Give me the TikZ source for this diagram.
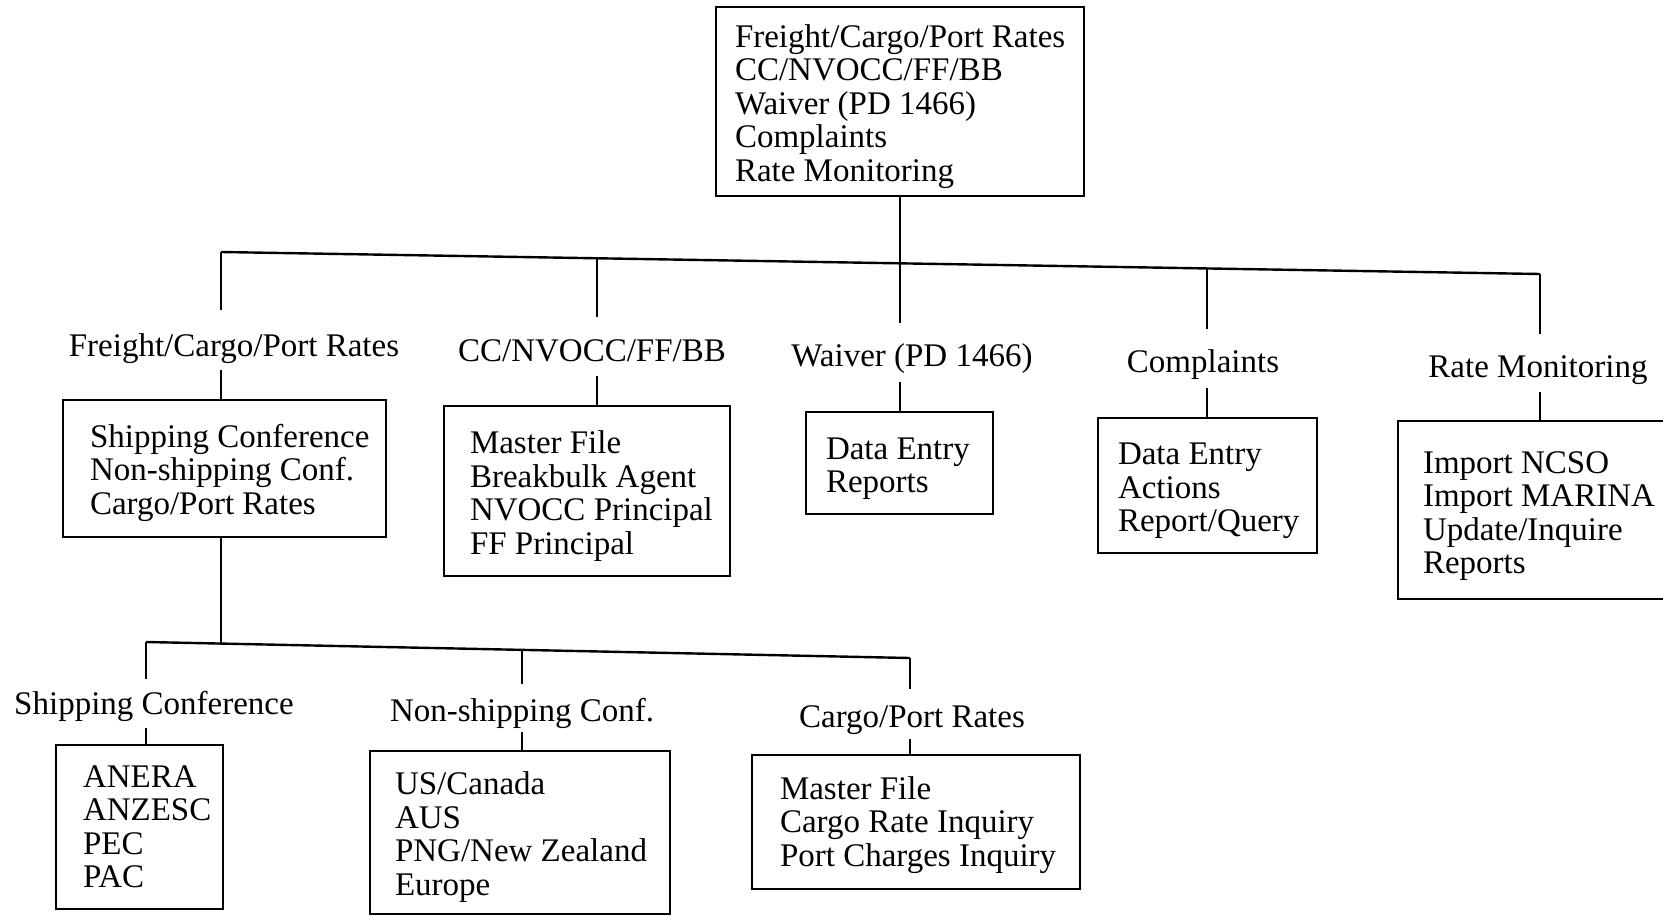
\documentclass[tikz,border=0pt]{standalone}
\usepackage{fontspec}
\setmainfont{Liberation Serif}
\usetikzlibrary{calc}
\newcommand\Lne[1]{\mbox{\spaceskip=0pt\xspaceskip=0pt #1}}
\newcommand\Tst[1]{\rule{0pt}{#1}}
\begin{document}
\begin{tikzpicture}[x=1pt,y=-1pt,
  txt/.style={font=\fontsize{33}{33.5}\selectfont},
  box/.style={txt, draw, line width=2.4pt, align=left, inner ysep=0pt},
  lab/.style={txt, inner sep=0pt, text height=23pt, text depth=7pt},
  conn/.style={line width=2.4pt}]
\useasboundingbox (0,0) rectangle (1663,916);
% top box
\node[box, text width=330pt, inner xsep=19pt, minimum height=189pt] (T) at (900,101.5)
  {\Tst{33pt}\Lne{Freight/Cargo/Port Rates}\\\Lne{CC/NVOCC/FF/BB}\\\Lne{Waiver (PD 1466)}\\\Lne{Complaints}\\\Lne{Rate Monitoring}};
% level 1 labels
\node[lab] (L1a) at (234,348) {Freight/Cargo/Port Rates};
\node[lab] (L1b) at (592,353) {CC/NVOCC/FF/BB};
\node[lab] (L1c) at (912,358) {Waiver (PD 1466)};
\node[lab] (L1d) at (1203,364) {Complaints};
\node[lab] (L1e) at (1538,369) {Rate Monitoring};
% level 2 boxes
\node[box, text width=269pt, inner xsep=27pt, minimum height=137pt] (A) at (224.5,468.5)
  {\Tst{32pt}\Lne{Shipping Conference}\\\Lne{Non-shipping Conf.}\\\Lne{Cargo/Port Rates}};
\node[box, text width=234pt, inner xsep=26pt, minimum height=170pt] (B) at (587,491)
  {\Tst{33pt}\Lne{Master File}\\\Lne{Breakbulk Agent}\\\Lne{NVOCC Principal}\\\Lne{FF Principal}};
\node[box, text width=147pt, inner xsep=20pt, minimum height=102pt] (C) at (899.5,463)
  {\Tst{33pt}\Lne{Data Entry}\\\Lne{Reports}};
\node[box, text width=179pt, inner xsep=20pt, minimum height=135pt] (D) at (1207.5,485.5)
  {\Tst{33pt}\Lne{Data Entry}\\\Lne{Actions}\\\Lne{Report/Query}};
\node[box, text width=232pt, inner xsep=25pt, minimum height=178pt] (E) at (1539,510)
  {\Tst{34pt}\Lne{Import NCSO}\\\Lne{Import MARINA}\\\Lne{Update/Inquire}\\\Lne{Reports}};
% level 3 labels
\node[lab] (L2a) at (154,706) {Shipping Conference};
\node[lab] (L2b) at (522,713) {Non-shipping Conf.};
\node[lab] (L2c) at (912,719) {Cargo/Port Rates};
% level 3 boxes
\node[box, text width=113pt, inner xsep=27pt, minimum height=164pt] (F) at (139.5,827)
  {\Lne{ANERA}\\\Lne{ANZESC}\\\Lne{PEC}\\\Lne{PAC}};
\node[box, text width=250pt, inner xsep=25pt, minimum height=163pt] (G) at (520,832.5)
  {\Tst{32pt}\Lne{US/Canada}\\\Lne{AUS}\\\Lne{PNG/New Zealand}\\\Lne{Europe}};
\node[box, text width=272pt, inner xsep=28pt, minimum height=134pt] (H) at (916,822)
  {\Tst{29pt}\Lne{Master File}\\\Lne{Cargo Rate Inquiry}\\\Lne{Port Charges Inquiry}};
% bus coordinates
\coordinate (b1) at (221,252);
\coordinate (b2) at (597,258.3);
\coordinate (b3) at (900,263.3);
\coordinate (b4) at (1207,268.4);
\coordinate (b5) at (1540,274);
\coordinate (c1) at (146,642);
\coordinate (c0) at (221,643.6);
\coordinate (c2) at (522,649.9);
\coordinate (c3) at (910,658);
% level 1 connectors
\draw[conn] (b1) -- (b5);
\draw[conn] (T.south) -- ($(b3 |- L1c.north)+(0,-20)$);
\draw[conn] (b1) -- ($(b1 |- L1a.north)+(0,-23)$);
\draw[conn] (b2) -- ($(b2 |- L1b.north)+(0,-21)$);
\draw[conn] (b4) -- ($(b4 |- L1d.north)+(0,-20)$);
\draw[conn] (b5) -- ($(b5 |- L1e.north)+(0,-20)$);
\draw[conn] ($(b1 |- L1a.south)+(0,7)$) -- (b1 |- A.north);
\draw[conn] ($(b2 |- L1b.south)+(0,8)$) -- (b2 |- B.north);
\draw[conn] ($(b3 |- L1c.south)+(0,9)$) -- (b3 |- C.north);
\draw[conn] ($(b4 |- L1d.south)+(0,9)$) -- (b4 |- D.north);
\draw[conn] ($(b5 |- L1e.south)+(0,8)$) -- (b5 |- E.north);
% level 2 connectors
\draw[conn] (b1 |- A.south) -- (c0);
\draw[conn] (c1) -- (c3);
\draw[conn] (c1) -- ($(c1 |- L2a.north)+(0,-12)$);
\draw[conn] (c2) -- ($(c2 |- L2b.north)+(0,-14)$);
\draw[conn] (c3) -- ($(c3 |- L2c.north)+(0,-15)$);
\draw[conn] ($(c1 |- L2a.south)+(0,7)$) -- (c1 |- F.north);
\draw[conn] ($(c2 |- L2b.south)+(0,4)$) -- (c2 |- G.north);
\draw[conn] ($(c3 |- L2c.south)+(0,5)$) -- (c3 |- H.north);
\end{tikzpicture}
\end{document}
